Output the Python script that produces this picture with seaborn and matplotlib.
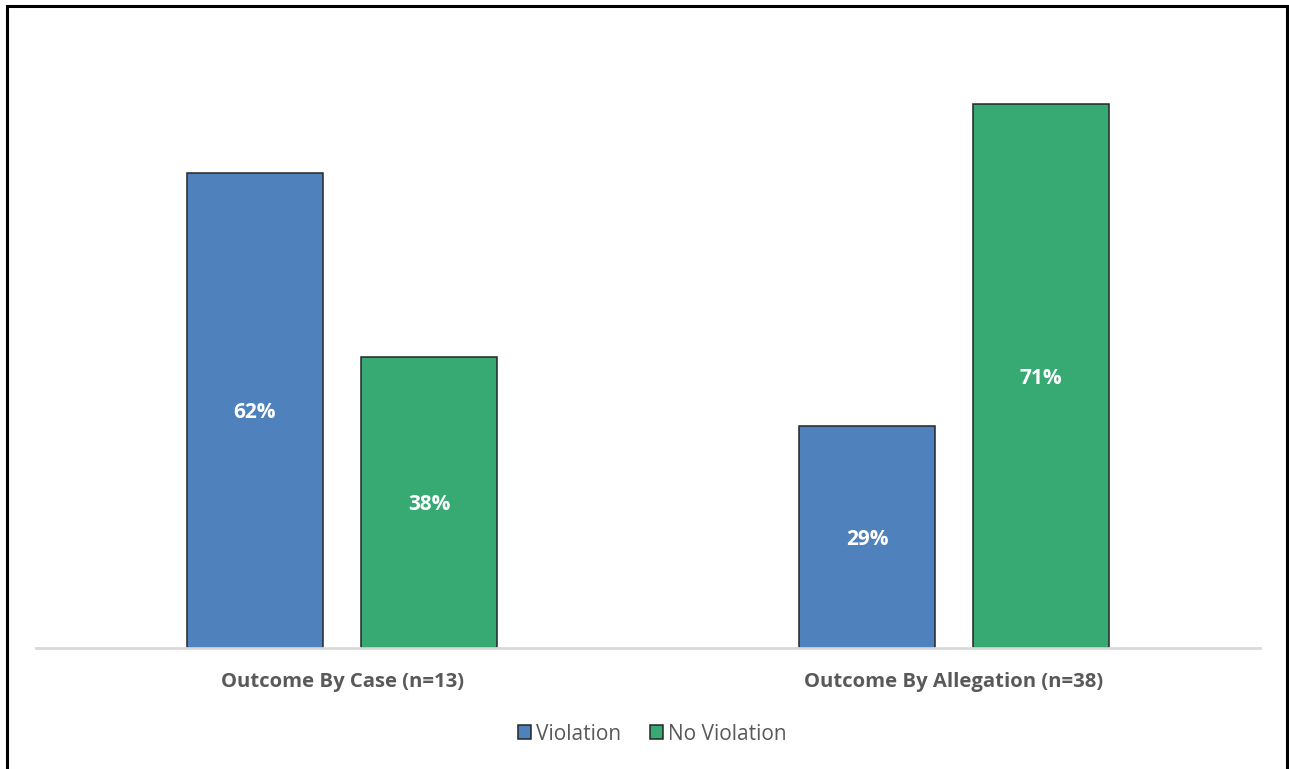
import matplotlib
matplotlib.use("Agg")
import matplotlib.pyplot as plt
from matplotlib.patches import Patch
from matplotlib.lines import Line2D
import pandas as pd
import seaborn as sns

# Chart data
categories = ["Outcome By Case (n=13)", "Outcome By Allegation (n=38)"]
outcomes = ["Violation", "No Violation"]
violation_pct = [62, 29]
no_violation_pct = [38, 71]

colors = {"Violation": "#4F81BD", "No Violation": "#37A973"}
text_gray = "#595959"
font = ["Open Sans", "DejaVu Sans"]

df = pd.DataFrame({
    "category": categories * 2,
    "outcome": [outcomes[0]] * len(categories) + [outcomes[1]] * len(categories),
    "value": violation_pct + no_violation_pct,
})

sns.set_theme(style="white")
plt.rcParams["font.family"] = font

fig = plt.figure(figsize=(12.89, 7.69), dpi=100)
ax = fig.add_axes([0.02793, 0.15735, 0.94957, 0.79714])

sns.barplot(
    data=df, x="category", y="value", hue="outcome",
    hue_order=outcomes, order=categories, palette=colors, saturation=1,
    width=0.569, gap=0.2185, edgecolor="#262626", linewidth=1.1,
    legend=False, ax=ax,
)

ax.set_ylim(0, 80)
ax.set_xlim(-0.5, 1.5)
ax.set_xlabel("")
ax.set_ylabel("")
ax.set_yticks([])
for side in ["top", "right", "left"]:
    ax.spines[side].set_visible(False)
ax.spines["bottom"].set_color("#D9D9D9")
ax.spines["bottom"].set_linewidth(2)
ax.tick_params(axis="x", length=0, pad=17)
for lbl in ax.get_xticklabels():
    lbl.set_fontsize(14.6)
    lbl.set_fontweight("bold")
    lbl.set_color(text_gray)

# Value labels centred inside each bar
for container, vals in zip(ax.containers, [violation_pct, no_violation_pct]):
    texts = ax.bar_label(container, labels=[f"{v}%" for v in vals], label_type="center",
                         color="white", fontsize=15, fontweight="bold")
    for t in texts:
        t.set_verticalalignment("center_baseline")

# Legend beneath the categories
handles = [Patch(facecolor=colors[o], edgecolor="#262626", linewidth=1.1, label=o)
           for o in outcomes]
leg = fig.legend(handles=handles, loc="center", bbox_to_anchor=(652 / 1289, 1 - 734 / 769),
                 ncol=2, frameon=False, handlelength=0.65, handleheight=0.65,
                 handletextpad=0.2, columnspacing=1.4, fontsize=15)
for t in leg.get_texts():
    t.set_color(text_gray)

# Outer frame (left, top, right edges)
frame_x = [6.5 / 1289, 6.5 / 1289, 1286.5 / 1289, 1286.5 / 1289]
frame_y = [0.0, 1 - 6 / 769, 1 - 6 / 769, 0.0]
fig.add_artist(Line2D(frame_x, frame_y, color="black", linewidth=2.2,
                      transform=fig.transFigure, solid_joinstyle="miter"))

fig.savefig("out.png", dpi=100)
